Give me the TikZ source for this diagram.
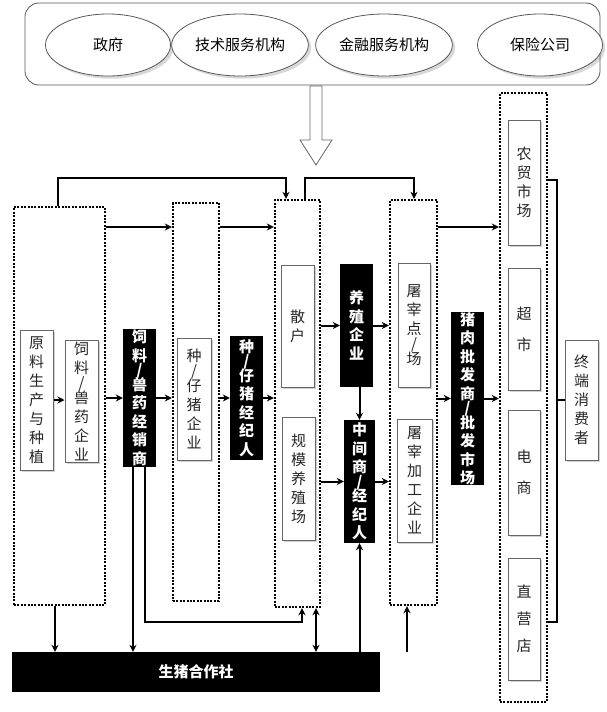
\documentclass[tikz,border=0pt]{standalone}
\usepackage{fontspec}
\setmainfont{Noto Sans CJK SC}
\usetikzlibrary{arrows.meta,shapes.geometric,shadows}
\tikzset{
  dotbox/.style={draw,line width=2.4pt,dash pattern=on 2pt off 1.4pt,inner sep=0pt},
  wbox/.style={draw=gray!80!black,line width=1pt,fill=white,inner sep=0pt,align=center,font=\fontsize{15}{19}\selectfont,text=black!85,drop shadow={opacity=0.35,shadow xshift=1.5pt,shadow yshift=-1.5pt}},
  bbox/.style={fill=black,inner sep=0pt,align=center,text=white,font=\fontsize{15}{18.5}\selectfont\bfseries},
  conn/.style={line width=2pt,-{Stealth[length=7pt,width=7pt]}},
  conn2/.style={line width=2pt,{Stealth[length=7pt,width=7pt]}-{Stealth[length=7pt,width=7pt]}},
  plain/.style={line width=2pt},
  ell/.style={ellipse,draw=gray!70!black,line width=0.8pt,fill=white,minimum width=125pt,minimum height=62pt,font=\fontsize{15}{18}\selectfont,drop shadow={opacity=0.3}},
}
\newcommand\bx[7]{\path (0,0) node[#6,minimum width={(#4-#2)*1pt},minimum height={(#5-#3)*1pt}] (#1) at ({(#2+#4)/2},{-(#3+#5)/2}) {#7};}
\begin{document}
\begin{tikzpicture}[x=1pt,y=1pt]
\useasboundingbox[fill=white] (0,0) rectangle (607,-712);
% top panel
\draw[gray!70!black,line width=0.8pt,rounded corners=14pt,fill=white] (25,-3) rectangle (600,-85);
\node[ell] (zf) at (108,-45) {政府};
\node[ell] (js) at (240,-45) {技术服务机构};
\node[ell] (jr) at (384,-45) {金融服务机构};
\node[ell] (bx) at (540,-45) {保险公司};
\draw[gray!80!black,line width=0.8pt,fill=white] (310,-86) -- (322,-86) -- (322,-140) -- (332,-140) -- (316,-165) -- (300,-140) -- (310,-140) -- cycle;
% dotted groups
\bx{A}{14}{207}{105}{605}{dotbox}{}
\bx{B}{173}{203}{219}{601}{dotbox}{}
\bx{C}{275}{200}{320}{607}{dotbox}{}
\bx{D}{390}{200}{437}{605}{dotbox}{}
\bx{E}{500}{93}{547}{702}{dotbox}{}
% inner boxes
\bx{yl}{20}{330}{53}{470}{wbox}{原\\料\\生\\产\\与\\种\\植}
\bx{sl}{65}{340}{98}{462}{wbox}{饲\\料\\[-4pt]/\\[-4pt]兽\\药\\企\\业}
\bx{jxs}{123}{329}{156}{467}{bbox}{饲\\料\\[-4pt]/\\[-4pt]兽\\药\\经\\销\\商}
\bx{zq}{177}{338}{211}{460}{wbox}{种\\[-4pt]/\\[-4pt]仔\\猪\\企\\业}
\bx{jjr}{230}{336}{263}{460}{bbox}{种\\[-4pt]/\\[-4pt]仔\\猪\\经\\纪\\人}
\bx{sh}{281}{265}{314}{387}{wbox}{散\\户}
\bx{gm}{282}{417}{315}{540}{wbox}{规\\模\\养\\殖\\场}
\bx{yz}{340}{264}{373}{387}{bbox}{养\\殖\\企\\业}
\bx{zj}{344}{420}{375}{543}{bbox}{中\\间\\商\\[-4pt]/\\[-4pt]经\\纪\\人}
\bx{tz}{398}{263}{430}{387}{wbox}{屠\\宰\\点\\[-4pt]/\\[-4pt]场}
\bx{tj}{397}{419}{432}{542}{wbox}{屠\\宰\\加\\工\\企\\业}
\bx{pf}{451}{312}{484}{485}{bbox}{猪\\肉\\批\\发\\商\\[-4pt]/\\[-4pt]批\\发\\市\\场}
\bx{nm}{508}{120}{540}{245}{wbox}{农\\贸\\市\\场}
\bx{cs}{508}{268}{540}{390}{wbox}{超\\[12pt]市}
\bx{ds}{508}{410}{540}{535}{wbox}{电\\[12pt]商}
\bx{zy}{508}{558}{540}{680}{wbox}{直\\[8pt]营\\[8pt]店}
\bx{zd}{565}{340}{598}{460}{wbox}{终\\端\\消\\费\\者}
\bx{hz}{12}{652}{380}{692}{bbox}{生猪合作社}
% helper coordinates
\coordinate (t1) at (0,-227);
\coordinate (k1) at (58,-178); \coordinate (k2) at (286,-178);
\coordinate (k3) at (305,-178); \coordinate (k4) at (414,-178);
\coordinate (k5) at (557,-180); \coordinate (k6) at (557,-622);
\coordinate (k7) at (55,0); \coordinate (k8) at (133,0);
\coordinate (k9) at (145,-622); \coordinate (k10) at (302,-622);
\coordinate (k11) at (316,0); \coordinate (k13) at (407,0);
% connectors
\draw[conn] (A.north -| k1) -- (k1) -- (k2) -- (C.north -| k2);
\draw[conn] (C.north -| k3) -- (k3) -- (k4) -- (D.north -| k4);
\draw[conn] (A.east |- t1) -- (B.west |- t1);
\draw[conn] (B.east |- t1) -- (C.west |- t1);
\draw[conn] (D.east |- t1) -- (E.west |- t1);
\draw[conn] (yl.east) -- (sl.west |- yl.east);
\draw[conn] (A.east |- jxs.west) -- (jxs.west);
\draw[conn] (jxs.east) -- (B.west |- jxs.east);
\draw[conn] (B.east |- jjr.west) -- (jjr.west);
\draw[conn] (jjr.east) -- (C.west |- jjr.east);
\draw[conn] (C.east |- yz.west) -- (yz.west);
\draw[conn] (yz.east) -- (D.west |- yz.east);
\draw[conn] (yz.south -| zj.north) -- (zj.north);
\draw[conn] (C.east |- zj.west) -- (zj.west);
\draw[conn] (zj.east) -- (D.west |- zj.east);
\draw[conn] (D.east |- pf.west) -- (pf.west);
\draw[conn] (pf.east) -- (E.west |- pf.east);
\draw[plain] (E.east |- k5) -- (k5) -- (k6) -- (E.east |- k6);
\draw[plain] (zd.west -| k5) -- (zd.west);
\draw[conn] (A.south -| k7) -- (hz.north -| k7);
\draw[conn] (jxs.south -| k8) -- (hz.north -| k8);
\draw[conn] (jxs.south -| k9) -- (k9) -- (k10) -- (C.south -| k10);
\draw[conn2] (C.south -| k11) -- (hz.north -| k11);
\draw[conn] (hz.north -| zj.south) -- (zj.south);
\draw[conn] (hz.north -| k13) -- (D.south -| k13);
\end{tikzpicture}
\end{document}
